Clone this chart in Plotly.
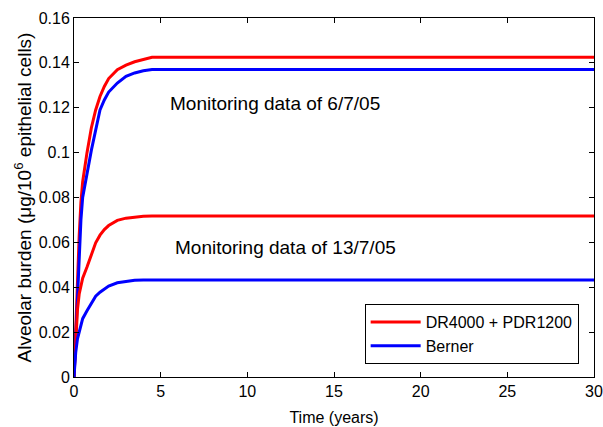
import plotly.graph_objects as go

# Time points (years)
time_years = [0, 0.1, 0.2, 0.3, 0.4, 0.5, 0.75, 1.0, 1.25, 1.5, 1.75, 2.0, 2.5, 3.0, 3.5, 4.0, 4.5, 30]

# Monitoring data of 6/7/05
red_6_7 = [0, 0.022, 0.044, 0.063, 0.078, 0.087, 0.100, 0.111, 0.119, 0.125, 0.1295, 0.133, 0.137, 0.139, 0.1405, 0.1415, 0.1425, 0.1425]
blue_6_7 = [0, 0.018, 0.038, 0.056, 0.070, 0.080, 0.091, 0.101, 0.110, 0.119, 0.1235, 0.127, 0.131, 0.134, 0.1355, 0.1365, 0.137, 0.137]

# Monitoring data of 13/7/05
red_13_7 = [0, 0.018, 0.030, 0.037, 0.041, 0.044, 0.049, 0.054, 0.0598, 0.0632, 0.0657, 0.0675, 0.0698, 0.0708, 0.0713, 0.0716, 0.0717, 0.0717]
blue_13_7 = [0, 0.011, 0.017, 0.0205, 0.0235, 0.026, 0.0295, 0.033, 0.036, 0.0378, 0.0393, 0.0405, 0.042, 0.0427, 0.0431, 0.0432, 0.0432, 0.0432]

x_ticks = [0, 5, 10, 15, 20, 25, 30]
y_ticks = [0, 0.02, 0.04, 0.06, 0.08, 0.1, 0.12, 0.14, 0.16]
y_tick_labels = ["0", "0.02", "0.04", "0.06", "0.08", "0.1", "0.12", "0.14", "0.16"]

series_names = ["DR4000 + PDR1200", "Berner"]
colors = ["#ff0000", "#0000ff"]

font_family = "Liberation Sans, Arial, sans-serif"

fig = go.Figure()
fig.add_trace(go.Scatter(x=time_years, y=red_6_7, mode="lines", name=series_names[0],
                         line=dict(color=colors[0], width=3), legendgroup="a"))
fig.add_trace(go.Scatter(x=time_years, y=blue_6_7, mode="lines", name=series_names[1],
                         line=dict(color=colors[1], width=3), legendgroup="b"))
fig.add_trace(go.Scatter(x=time_years, y=red_13_7, mode="lines", name=series_names[0],
                         line=dict(color=colors[0], width=3), legendgroup="a", showlegend=False))
fig.add_trace(go.Scatter(x=time_years, y=blue_13_7, mode="lines", name=series_names[1],
                         line=dict(color=colors[1], width=3), legendgroup="b", showlegend=False))

fig.add_annotation(x=5.42, y=0.1221, text="Monitoring data of 6/7/05", showarrow=False,
                   xanchor="left", yanchor="middle", font=dict(size=19, color="black", family=font_family))
fig.add_annotation(x=5.73, y=0.0575, text="Monitoring data of 13/7/05", showarrow=False,
                   xanchor="left", yanchor="middle", font=dict(size=19, color="black", family=font_family))

fig.update_layout(
    width=603, height=427,
    margin=dict(l=74, r=9, t=18, b=50, autoexpand=False),
    paper_bgcolor="white", plot_bgcolor="white",
    font=dict(family=font_family, color="black", size=16),
    showlegend=True,
    legend=dict(x=0.9705, y=0.036, xanchor="right", yanchor="bottom",
                bgcolor="white", bordercolor="black", borderwidth=1,
                font=dict(size=16, color="black", family=font_family),
                itemwidth=50, tracegroupgap=0),
    xaxis=dict(range=[0, 30], tickvals=x_ticks, ticks="inside", ticklen=5, tickcolor="black",
               showline=True, linecolor="black", linewidth=1, mirror="ticks",
               showgrid=False, zeroline=False, automargin=False,
               tickfont=dict(size=16, family=font_family),
               title=dict(text="Time (years)", font=dict(size=16, family=font_family), standoff=12)),
    yaxis=dict(range=[0, 0.16], tickvals=y_ticks, ticktext=y_tick_labels, ticks="inside", ticklen=5,
               tickcolor="black", showline=True, linecolor="black", linewidth=1, mirror="ticks",
               showgrid=False, zeroline=False, automargin=False,
               tickfont=dict(size=16, family=font_family),
               title=dict(text="Alveolar burden (\u03bcg/10<sup>6</sup> epithelial cells)",
                          font=dict(size=19, family=font_family), standoff=2)),
)

fig.write_html("out.html", config={"displayModeBar": False},
               post_script="document.body.style.margin='0px';document.body.style.overflow='hidden';")
